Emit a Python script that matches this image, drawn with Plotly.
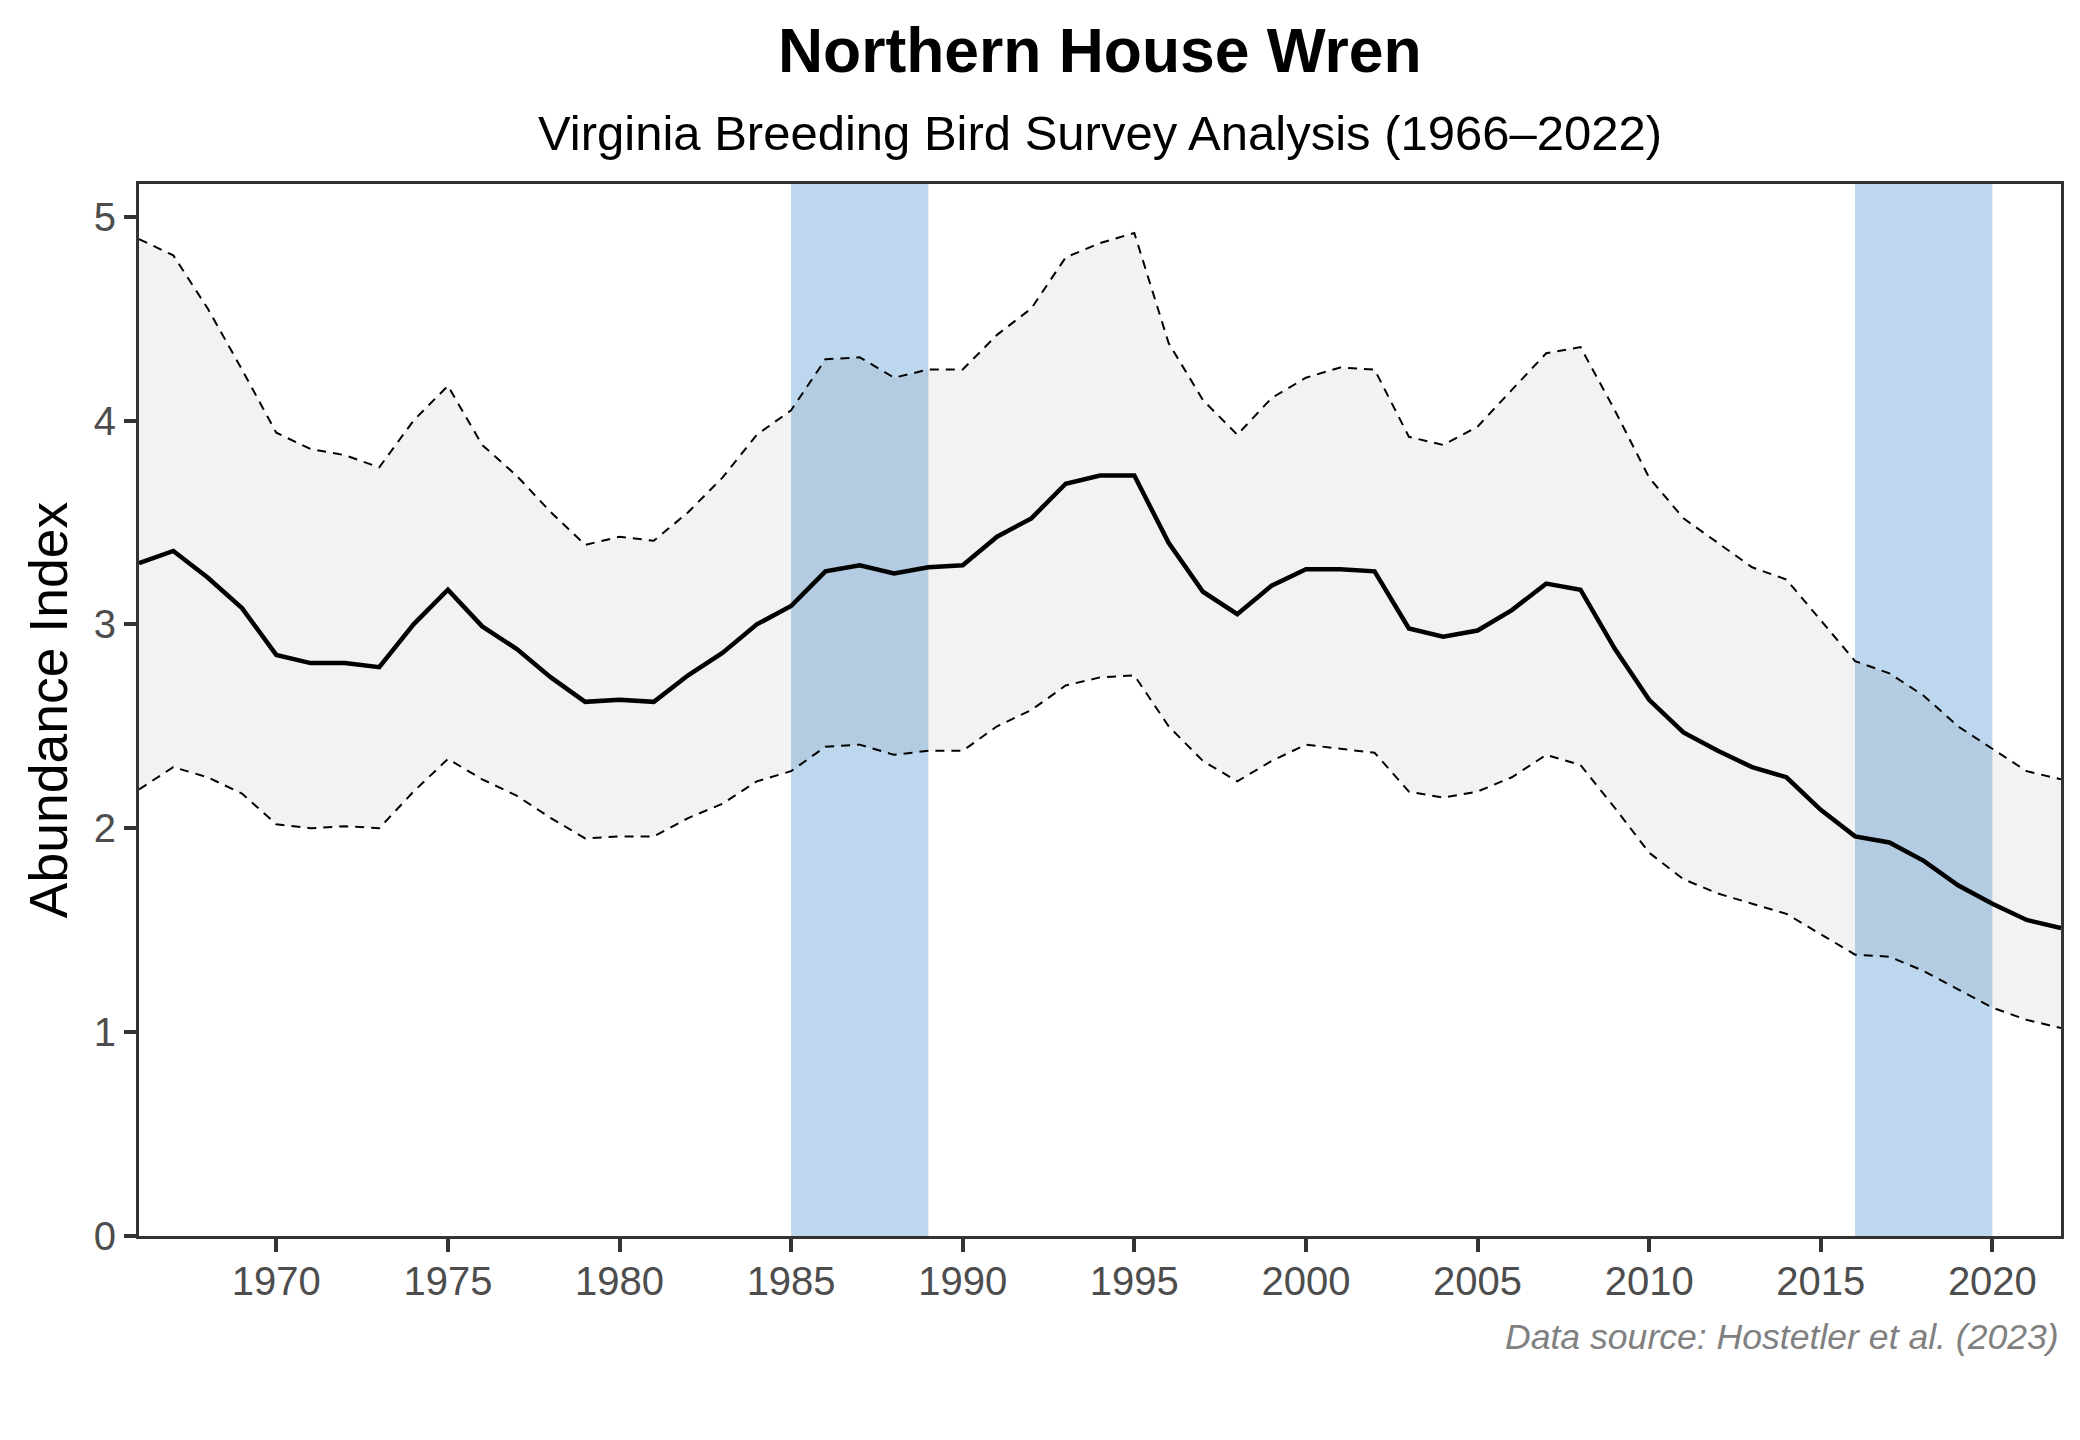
import plotly.graph_objects as go

years = list(range(1966, 2023))
index_vals = [3.30, 3.36, 3.23, 3.08, 2.85, 2.81, 2.81, 2.79, 3.00, 3.17,
              2.99, 2.88, 2.74, 2.62, 2.63, 2.62, 2.75, 2.86, 3.00, 3.09,
              3.26, 3.29, 3.25, 3.28, 3.29, 3.43, 3.52, 3.69, 3.73, 3.73,
              3.40, 3.16, 3.05, 3.19, 3.27, 3.27, 3.26, 2.98, 2.94, 2.97,
              3.07, 3.20, 3.17, 2.88, 2.63, 2.47, 2.38, 2.30, 2.25, 2.09,
              1.96, 1.93, 1.84, 1.72, 1.63, 1.55, 1.51]
upper_vals = [4.89, 4.81, 4.55, 4.25, 3.94, 3.86, 3.83, 3.77, 4.00, 4.17,
              3.88, 3.73, 3.55, 3.39, 3.43, 3.41, 3.55, 3.72, 3.93, 4.05,
              4.30, 4.31, 4.21, 4.25, 4.25, 4.42, 4.55, 4.80, 4.87, 4.92,
              4.38, 4.10, 3.93, 4.11, 4.21, 4.26, 4.25, 3.92, 3.88, 3.97,
              4.15, 4.33, 4.36, 4.05, 3.72, 3.52, 3.40, 3.28, 3.22, 3.02,
              2.82, 2.76, 2.65, 2.50, 2.39, 2.28, 2.24]
lower_vals = [2.19, 2.30, 2.25, 2.17, 2.02, 2.00, 2.01, 2.00, 2.18, 2.34,
              2.24, 2.16, 2.05, 1.95, 1.96, 1.96, 2.05, 2.12, 2.23, 2.28,
              2.40, 2.41, 2.36, 2.38, 2.38, 2.50, 2.58, 2.70, 2.74, 2.75,
              2.50, 2.33, 2.23, 2.33, 2.41, 2.39, 2.37, 2.18, 2.15, 2.18,
              2.25, 2.36, 2.31, 2.10, 1.88, 1.75, 1.68, 1.63, 1.58, 1.48,
              1.38, 1.37, 1.30, 1.21, 1.12, 1.06, 1.02]
band_starts = [1985, 2016]
band_ends = [1989, 2020]
x_ticks = [1970, 1975, 1980, 1985, 1990, 1995, 2000, 2005, 2010, 2015, 2020]
y_ticks = [0, 1, 2, 3, 4, 5]

title_text = "Northern House Wren"
subtitle_text = "Virginia Breeding Bird Survey Analysis (1966–2022)"
caption_text = "Data source: Hostetler et al. (2023)"
y_title = "Abundance Index"

FONT = "Liberation Sans, Arial, sans-serif"

fig = go.Figure()

# ribbon
fig.add_trace(go.Scatter(x=years, y=lower_vals, mode="lines",
                         line=dict(width=0), hoverinfo="skip", showlegend=False))
fig.add_trace(go.Scatter(x=years, y=upper_vals, mode="lines", fill="tonexty",
                         fillcolor="rgba(0,0,0,0.05)", line=dict(width=0),
                         hoverinfo="skip", showlegend=False))
# dashed bounds
fig.add_trace(go.Scatter(x=years, y=upper_vals, mode="lines",
                         line=dict(color="black", width=2, dash="9px,7px"),
                         showlegend=False))
fig.add_trace(go.Scatter(x=years, y=lower_vals, mode="lines",
                         line=dict(color="black", width=2, dash="9px,7px"),
                         showlegend=False))
# main line
fig.add_trace(go.Scatter(x=years, y=index_vals, mode="lines",
                         line=dict(color="black", width=4.5), showlegend=False))

for s, e in zip(band_starts, band_ends):
    fig.add_vrect(x0=s, x1=e, fillcolor="#BDD7EE", opacity=1, line_width=0, layer="below")

fig.update_layout(
    width=2080, height=1440,
    margin=dict(l=139, r=19, t=184, b=204),
    paper_bgcolor="white", plot_bgcolor="white",
    font=dict(family=FONT, color="#4D4D4D"),
    showlegend=False,
)
fig.update_xaxes(range=[1966, 2022], tickvals=x_ticks, showgrid=False, zeroline=False,
                 showline=True, linecolor="#333333", linewidth=3, mirror=True,
                 ticks="outside", ticklen=13, tickwidth=4, tickcolor="#333333",
                 ticklabelstandoff=-5,
                 tickfont=dict(size=40, color="#4D4D4D", family=FONT))
fig.update_yaxes(range=[0, 5.16], tickvals=y_ticks, showgrid=False, zeroline=False,
                 showline=True, linecolor="#333333", linewidth=3, mirror=True,
                 ticks="outside", ticklen=12, tickwidth=4, tickcolor="#333333",
                 tickfont=dict(size=40, color="#4D4D4D", family=FONT),
                 title=dict(text=y_title, font=dict(size=53.5, color="black", family=FONT), standoff=10))

fig.add_annotation(text="<b>" + title_text + "</b>", xref="paper", yref="paper",
                   x=0.5, y=(1236 - 50) / 1052, xanchor="center", yanchor="middle",
                   showarrow=False, font=dict(size=62.4, color="black", family=FONT))
fig.add_annotation(text=subtitle_text, xref="paper", yref="paper",
                   x=0.5, y=(1236 - 133) / 1052, xanchor="center", yanchor="middle",
                   showarrow=False, font=dict(size=49, color="black", family=FONT))
fig.add_annotation(text="<i>" + caption_text + "</i>", xref="paper", yref="paper",
                   x=1, y=(1236 - 1337) / 1052, xanchor="right", yanchor="middle",
                   showarrow=False, font=dict(size=35.6, color="#808080", family=FONT))

fig.write_html("out.html", config={"displayModeBar": False},
               post_script="document.body.style.margin='0';document.body.style.overflow='hidden';")
